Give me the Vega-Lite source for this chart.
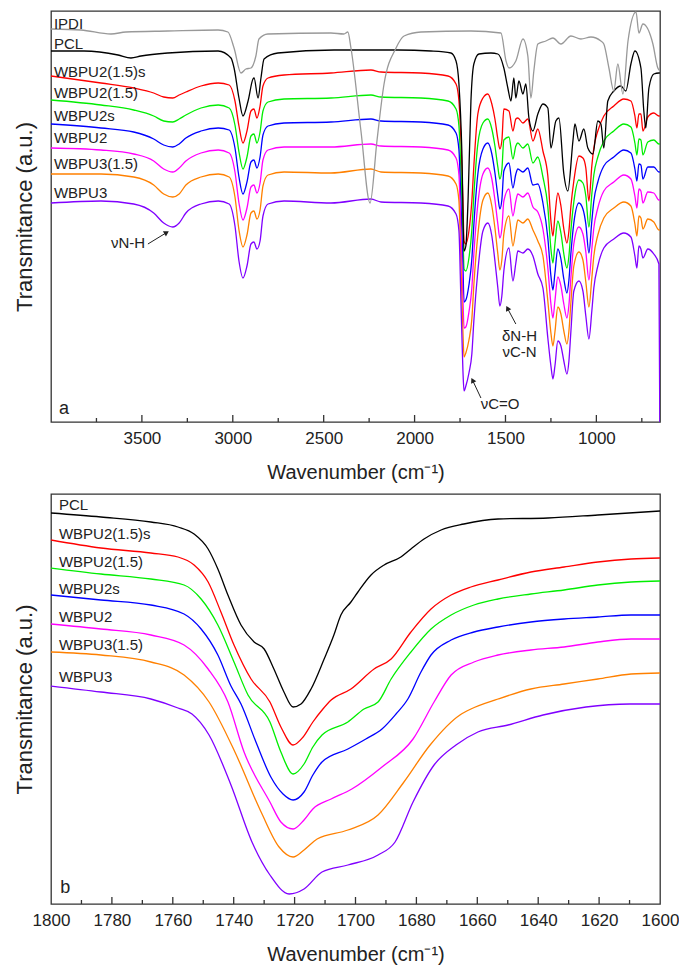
{
  "$schema": "https://vega.github.io/schema/vega-lite/v6.json",
  "background": "white",
  "padding": {"left": 12, "top": 10, "right": 5, "bottom": 5},
  "spacing": 10,
  "config": {
    "font": "Liberation Sans",
    "view": {"stroke": "#333333", "strokeWidth": 1.3},
    "axis": {"grid": false, "domain": false, "ticks": false, "tickSize": 0, "labelFont": "Liberation Sans", "titleFont": "Liberation Sans", "labelColor": "#222222", "titleColor": "#222222", "titleFontWeight": "normal", "labelFontSize": 17, "titleFontSize": 20}
  },
  "datasets": {
    "aw": [
      {"w":4000,"r":346,"g":322,"b":298,"m":274,"o":248,"p":219},
      {"w":3725,"r":339,"g":317,"b":294,"m":272,"o":248,"p":221},
      {"w":3545,"r":334,"g":312,"b":290,"m":268,"o":245,"p":218},
      {"w":3435,"r":329,"g":306,"b":283,"m":261,"o":237,"p":209},
      {"w":3380,"r":325,"g":301,"b":277,"m":253,"o":228,"p":199},
      {"w":3330,"r":324,"g":300,"b":275,"m":250,"o":225,"p":195},
      {"w":3295,"r":327,"g":303,"b":278,"m":254,"o":228,"p":199},
      {"w":3258,"r":330,"g":307,"b":284,"m":261,"o":237,"p":209},
      {"w":3175,"r":336,"g":314,"b":291,"m":269,"o":245,"p":218},
      {"w":3080,"r":339,"g":317,"b":294,"m":272,"o":248,"p":221},
      {"w":3020,"r":337,"g":314,"b":292,"m":269,"o":245,"p":218},
      {"w":2988,"r":321,"g":297,"b":274,"m":250,"o":225,"p":196},
      {"w":2966,"r":296,"g":270,"b":245,"m":219,"o":192,"p":161},
      {"w":2944,"r":279,"g":253,"b":228,"m":202,"o":175,"p":144},
      {"w":2922,"r":291,"g":265,"b":240,"m":214,"o":187,"p":156},
      {"w":2900,"r":311,"g":286,"b":260,"m":235,"o":209,"p":178},
      {"w":2884,"r":313,"g":288,"b":262,"m":237,"o":211,"p":180},
      {"w":2867,"r":304,"g":279,"b":254,"m":229,"o":203,"p":173},
      {"w":2850,"r":316,"g":290,"b":265,"m":239,"o":212,"p":181},
      {"w":2834,"r":336,"g":311,"b":287,"m":262,"o":236,"p":206},
      {"w":2806,"r":344,"g":320,"b":296,"m":272,"o":247,"p":218},
      {"w":2718,"r":347,"g":323,"b":299,"m":275,"o":250,"p":221},
      {"w":2460,"r":349,"g":324,"b":300,"m":275,"o":249,"p":219},
      {"w":2240,"r":352,"g":327,"b":303,"m":278,"o":253,"p":223},
      {"w":2185,"r":350,"g":325,"b":301,"m":276,"o":250,"p":220},
      {"w":1965,"r":349,"g":324,"b":300,"m":275,"o":249,"p":219},
      {"w":1816,"r":346,"g":321,"b":297,"m":272,"o":246,"p":216},
      {"w":1772,"r":338,"g":313,"b":289,"m":264,"o":238,"p":208},
      {"w":1756,"r":321,"g":296,"b":272,"m":247,"o":221,"p":191},
      {"w":1745,"r":281,"g":251,"b":220,"m":190,"o":158,"p":121},
      {"w":1734,"r":221,"g":189,"b":156,"m":124,"o":90,"p":51},
      {"w":1728,"r":181,"g":153,"b":120,"m":94,"o":65,"p":31},
      {"w":1718,"r":178,"g":151,"b":122,"m":95,"o":69,"p":36},
      {"w":1701,"r":191,"g":164,"b":137,"m":110,"o":82,"p":49},
      {"w":1685,"r":221,"g":192,"b":163,"m":134,"o":103,"p":68},
      {"w":1674,"r":256,"g":227,"b":197,"m":168,"o":137,"p":101},
      {"w":1652,"r":308,"g":278,"b":248,"m":218,"o":187,"p":151},
      {"w":1624,"r":324,"g":299,"b":273,"m":248,"o":222,"p":191},
      {"w":1597,"r":328,"g":303,"b":279,"m":254,"o":229,"p":199},
      {"w":1575,"r":318,"g":293,"b":268,"m":243,"o":216,"p":186},
      {"w":1558,"r":303,"g":276,"b":249,"m":222,"o":194,"p":161},
      {"w":1542,"r":283,"g":255,"b":226,"m":198,"o":168,"p":134},
      {"w":1531,"r":273,"g":243,"b":213,"m":184,"o":152,"p":116},
      {"w":1520,"r":281,"g":252,"b":222,"m":193,"o":162,"p":126},
      {"w":1509,"r":313,"g":282,"b":251,"m":221,"o":188,"p":151},
      {"w":1481,"r":311,"g":285,"b":259,"m":233,"o":206,"p":174},
      {"w":1459,"r":291,"g":263,"b":234,"m":206,"o":176,"p":141},
      {"w":1443,"r":303,"g":276,"b":248,"m":221,"o":192,"p":159},
      {"w":1432,"r":304,"g":279,"b":253,"m":228,"o":202,"p":171},
      {"w":1404,"r":299,"g":274,"b":250,"m":225,"o":199,"p":169},
      {"w":1377,"r":303,"g":278,"b":254,"m":229,"o":203,"p":173},
      {"w":1349,"r":281,"g":259,"b":237,"m":215,"o":192,"p":166},
      {"w":1322,"r":293,"g":265,"b":238,"m":210,"o":181,"p":148},
      {"w":1294,"r":271,"g":245,"b":219,"m":193,"o":166,"p":134},
      {"w":1267,"r":246,"g":215,"b":184,"m":154,"o":121,"p":84},
      {"w":1250,"r":201,"g":173,"b":146,"m":118,"o":89,"p":56},
      {"w":1239,"r":186,"g":159,"b":132,"m":104,"o":76,"p":43},
      {"w":1228,"r":206,"g":178,"b":149,"m":121,"o":90,"p":56},
      {"w":1212,"r":229,"g":201,"b":173,"m":145,"o":115,"p":81},
      {"w":1195,"r":216,"g":189,"b":163,"m":136,"o":108,"p":76},
      {"w":1179,"r":193,"g":168,"b":143,"m":118,"o":91,"p":61},
      {"w":1162,"r":179,"g":154,"b":129,"m":104,"o":78,"p":48},
      {"w":1151,"r":191,"g":166,"b":142,"m":117,"o":91,"p":61},
      {"w":1140,"r":216,"g":192,"b":169,"m":145,"o":120,"p":91},
      {"w":1124,"r":241,"g":220,"b":199,"m":178,"o":156,"p":131},
      {"w":1096,"r":266,"g":242,"b":219,"m":195,"o":170,"p":141},
      {"w":1074,"r":264,"g":239,"b":213,"m":188,"o":162,"p":131},
      {"w":1058,"r":254,"g":226,"b":198,"m":170,"o":140,"p":106},
      {"w":1041,"r":221,"g":195,"b":169,"m":142,"o":115,"p":83},
      {"w":1025,"r":256,"g":228,"b":201,"m":173,"o":144,"p":111},
      {"w":1014,"r":274,"g":247,"b":221,"m":194,"o":166,"p":134},
      {"w":992,"r":291,"g":265,"b":240,"m":214,"o":187,"p":156},
      {"w":959,"r":306,"g":281,"b":256,"m":231,"o":204,"p":174},
      {"w":904,"r":316,"g":291,"b":265,"m":240,"o":214,"p":183},
      {"w":849,"r":323,"g":298,"b":272,"m":247,"o":220,"p":189},
      {"w":810,"r":321,"g":295,"b":269,"m":243,"o":216,"p":185},
      {"w":788,"r":306,"g":279,"b":253,"m":226,"o":198,"p":166},
      {"w":777,"r":294,"g":267,"b":241,"m":214,"o":186,"p":154},
      {"w":766,"r":308,"g":283,"b":258,"m":233,"o":206,"p":176},
      {"w":755,"r":308,"g":282,"b":257,"m":231,"o":204,"p":173},
      {"w":744,"r":291,"g":267,"b":243,"m":219,"o":193,"p":164},
      {"w":717,"r":305,"g":280,"b":255,"m":230,"o":203,"p":173},
      {"w":684,"r":309,"g":282,"b":255,"m":229,"o":200,"p":168},
      {"w":656,"r":306,"g":278,"b":250,"m":222,"o":192,"p":158},
      {"w":651,"r":306,"g":278,"b":250,"m":222,"o":192,"p":0}
    ],
    "ak": [
      {"w":4000,"v":371},{"w":3818,"v":371},{"w":3631,"v":367},{"w":3560,"v":364},{"w":3505,"v":366},{"w":3357,"v":369},{"w":3081,"v":371},{"w":3010,"v":364},{"w":2993,"v":354},{"w":2966,"v":324},{"w":2944,"v":306},{"w":2916,"v":321},{"w":2889,"v":343},{"w":2883,"v":344},{"w":2861,"v":324},{"w":2845,"v":344},{"w":2828,"v":363},{"w":2752,"v":369},{"w":2443,"v":372},{"w":2091,"v":372},{"w":1910,"v":371},{"w":1800,"v":369},{"w":1772,"v":361},{"w":1756,"v":338},{"w":1740,"v":271},{"w":1728,"v":171},{"w":1718,"v":176},{"w":1706,"v":221},{"w":1690,"v":321},{"w":1674,"v":358},{"w":1646,"v":368},{"w":1580,"v":369},{"w":1542,"v":368},{"w":1509,"v":354},{"w":1487,"v":334},{"w":1470,"v":321},{"w":1454,"v":344},{"w":1443,"v":324},{"w":1426,"v":341},{"w":1404,"v":328},{"w":1388,"v":338},{"w":1371,"v":304},{"w":1349,"v":291},{"w":1322,"v":308},{"w":1294,"v":318},{"w":1267,"v":314},{"w":1250,"v":274},{"w":1223,"v":301},{"w":1206,"v":304},{"w":1179,"v":248},{"w":1157,"v":231},{"w":1129,"v":281},{"w":1118,"v":298},{"w":1096,"v":281},{"w":1069,"v":293},{"w":1047,"v":274},{"w":1019,"v":268},{"w":992,"v":301},{"w":975,"v":298},{"w":959,"v":274},{"w":937,"v":321},{"w":904,"v":331},{"w":865,"v":336},{"w":838,"v":331},{"w":810,"v":358},{"w":788,"v":371},{"w":755,"v":354},{"w":739,"v":311},{"w":728,"v":294},{"w":711,"v":334},{"w":684,"v":348},{"w":656,"v":349},{"w":651,"v":349}
    ],
    "ai": [
      {"w":4000,"v":393},{"w":3835,"v":392},{"w":3670,"v":388},{"w":3588,"v":390},{"w":3357,"v":391},{"w":3081,"v":392},{"w":3027,"v":390},{"w":2993,"v":374},{"w":2955,"v":349},{"w":2928,"v":353},{"w":2900,"v":354},{"w":2873,"v":366},{"w":2856,"v":383},{"w":2807,"v":388},{"w":2460,"v":389},{"w":2389,"v":388},{"w":2367,"v":390},{"w":2350,"v":374},{"w":2295,"v":291},{"w":2245,"v":219},{"w":2207,"v":281},{"w":2168,"v":338},{"w":2102,"v":374},{"w":2058,"v":386},{"w":1965,"v":390},{"w":1690,"v":391},{"w":1525,"v":389},{"w":1497,"v":361},{"w":1481,"v":354},{"w":1443,"v":361},{"w":1404,"v":383},{"w":1377,"v":366},{"w":1360,"v":324},{"w":1344,"v":351},{"w":1322,"v":378},{"w":1278,"v":381},{"w":1239,"v":384},{"w":1195,"v":378},{"w":1140,"v":386},{"w":1085,"v":383},{"w":1030,"v":385},{"w":975,"v":381},{"w":959,"v":378},{"w":931,"v":354},{"w":904,"v":331},{"w":882,"v":358},{"w":854,"v":328},{"w":826,"v":381},{"w":782,"v":410},{"w":766,"v":389},{"w":744,"v":398},{"w":689,"v":378},{"w":662,"v":354},{"w":650,"v":351}
    ],
    "alab": [
      {"x":3984,"y":398,"t":"IPDI"},
      {"x":3984,"y":378,"t":"PCL"},
      {"x":3984,"y":350,"t":"WBPU2(1.5)s"},
      {"x":3984,"y":329,"t":"WBPU2(1.5)"},
      {"x":3984,"y":306,"t":"WBPU2s"},
      {"x":3984,"y":284,"t":"WBPU2"},
      {"x":3984,"y":258,"t":"WBPU3(1.5)"},
      {"x":3984,"y":229,"t":"WBPU3"}
    ],
    "aann": [
      {"x":3576,"y":179,"t":"νN-H"},
      {"x":1423,"y":86,"t":"δN-H"},
      {"x":1423,"y":70,"t":"νC-N"},
      {"x":1530,"y":18,"t":"νC=O"}
    ],
    "aarr": [
      {"id":"nh","x":3467,"y":178,"x2":3368,"y2":189},
      {"id":"cn","x":1443,"y":98,"x2":1487,"y2":113},
      {"id":"co","x":1635,"y":24,"x2":1679,"y2":41}
    ],
    "atmaj": [{"w":3500},{"w":3000},{"w":2500},{"w":2000},{"w":1500},{"w":1000}],
    "atmin": [{"w":3750},{"w":3250},{"w":2750},{"w":2250},{"w":1750},{"w":1250},{"w":750}],
    "btmaj": [{"w":1780},{"w":1760},{"w":1740},{"w":1720},{"w":1700},{"w":1680},{"w":1660},{"w":1640},{"w":1620}],
    "btmin": [{"w":1790},{"w":1770},{"w":1750},{"w":1730},{"w":1710},{"w":1690},{"w":1670},{"w":1650},{"w":1630},{"w":1610}],
    "b": [
      {"s":"k","w":1800,"v":391},{"s":"k","w":1783.6,"v":387},{"s":"k","w":1767.2,"v":382},{"s":"k","w":1758.3,"v":377},{"s":"k","w":1753,"v":370},{"s":"k","w":1748.4,"v":355},{"s":"k","w":1745.2,"v":335},{"s":"k","w":1741.9,"v":309},{"s":"k","w":1737.6,"v":279},{"s":"k","w":1733.3,"v":262},{"s":"k","w":1730,"v":255},{"s":"k","w":1726.8,"v":235},{"s":"k","w":1723.5,"v":212},{"s":"k","w":1720.5,"v":197},{"s":"k","w":1717.9,"v":200},{"s":"k","w":1714.6,"v":215},{"s":"k","w":1710.3,"v":245},{"s":"k","w":1707.1,"v":269},{"s":"k","w":1704.8,"v":289},{"s":"k","w":1701.5,"v":302},{"s":"k","w":1699.2,"v":312},{"s":"k","w":1694.9,"v":329},{"s":"k","w":1690.6,"v":339},{"s":"k","w":1685.1,"v":347},{"s":"k","w":1681.8,"v":355},{"s":"k","w":1677.5,"v":365},{"s":"k","w":1671.9,"v":374},{"s":"k","w":1664.4,"v":380},{"s":"k","w":1653.2,"v":385},{"s":"k","w":1636.8,"v":386},{"s":"k","w":1620.4,"v":389},{"s":"k","w":1600,"v":393},
      {"s":"r","w":1800,"v":364},{"s":"r","w":1783.6,"v":356},{"s":"r","w":1767.2,"v":351},{"s":"r","w":1758.3,"v":347},{"s":"r","w":1753,"v":339},{"s":"r","w":1748.4,"v":322},{"s":"r","w":1744.2,"v":292},{"s":"r","w":1739.9,"v":259},{"s":"r","w":1734.3,"v":225},{"s":"r","w":1728.1,"v":202},{"s":"r","w":1724.5,"v":177},{"s":"r","w":1720.5,"v":159},{"s":"r","w":1717.2,"v":167},{"s":"r","w":1714,"v":182},{"s":"r","w":1710.7,"v":195},{"s":"r","w":1708,"v":204},{"s":"r","w":1701.5,"v":215},{"s":"r","w":1693.9,"v":235},{"s":"r","w":1688.3,"v":245},{"s":"r","w":1681.8,"v":272},{"s":"r","w":1675.2,"v":295},{"s":"r","w":1668.6,"v":309},{"s":"r","w":1662.1,"v":317},{"s":"r","w":1653.2,"v":324},{"s":"r","w":1642.4,"v":332},{"s":"r","w":1631.5,"v":337},{"s":"r","w":1620.4,"v":342},{"s":"r","w":1609.5,"v":345},{"s":"r","w":1600,"v":346},
      {"s":"g","w":1800,"v":336},{"s":"g","w":1783.6,"v":330},{"s":"g","w":1767.2,"v":325},{"s":"g","w":1756.3,"v":319},{"s":"g","w":1750.7,"v":305},{"s":"g","w":1745.2,"v":279},{"s":"g","w":1739.9,"v":242},{"s":"g","w":1735.3,"v":209},{"s":"g","w":1728.1,"v":182},{"s":"g","w":1724.5,"v":152},{"s":"g","w":1720.5,"v":130},{"s":"g","w":1716.9,"v":140},{"s":"g","w":1714,"v":157},{"s":"g","w":1711,"v":169},{"s":"g","w":1702.5,"v":182},{"s":"g","w":1697.2,"v":195},{"s":"g","w":1692.6,"v":202},{"s":"g","w":1688.3,"v":225},{"s":"g","w":1681.8,"v":252},{"s":"g","w":1675.2,"v":275},{"s":"g","w":1668.6,"v":289},{"s":"g","w":1661.1,"v":299},{"s":"g","w":1653.2,"v":305},{"s":"g","w":1642.4,"v":310},{"s":"g","w":1631.5,"v":314},{"s":"g","w":1620.4,"v":319},{"s":"g","w":1609.5,"v":322},{"s":"g","w":1600,"v":323},
      {"s":"b","w":1800,"v":309},{"s":"b","w":1783.6,"v":304},{"s":"b","w":1767.2,"v":299},{"s":"b","w":1756.3,"v":290},{"s":"b","w":1750.7,"v":275},{"s":"b","w":1745.2,"v":249},{"s":"b","w":1740.9,"v":218},{"s":"b","w":1737.6,"v":200},{"s":"b","w":1732.7,"v":162},{"s":"b","w":1727.8,"v":127},{"s":"b","w":1723.8,"v":110},{"s":"b","w":1720.5,"v":104},{"s":"b","w":1716.9,"v":112},{"s":"b","w":1714,"v":129},{"s":"b","w":1711,"v":142},{"s":"b","w":1702.5,"v":155},{"s":"b","w":1696.6,"v":165},{"s":"b","w":1691.3,"v":175},{"s":"b","w":1686.7,"v":190},{"s":"b","w":1682.8,"v":205},{"s":"b","w":1678.5,"v":232},{"s":"b","w":1675.2,"v":249},{"s":"b","w":1668.6,"v":264},{"s":"b","w":1661.1,"v":272},{"s":"b","w":1653.2,"v":277},{"s":"b","w":1642.4,"v":282},{"s":"b","w":1631.5,"v":285},{"s":"b","w":1620.4,"v":287},{"s":"b","w":1609.5,"v":289},{"s":"b","w":1600,"v":289},
      {"s":"m","w":1800,"v":280},{"s":"m","w":1783.6,"v":275},{"s":"m","w":1767.2,"v":269},{"s":"m","w":1756.3,"v":259},{"s":"m","w":1748.4,"v":235},{"s":"m","w":1741.9,"v":202},{"s":"m","w":1736.6,"v":152},{"s":"m","w":1728.1,"v":102},{"s":"m","w":1724.5,"v":82},{"s":"m","w":1720.5,"v":75},{"s":"m","w":1716.9,"v":84},{"s":"m","w":1714,"v":95},{"s":"m","w":1708,"v":105},{"s":"m","w":1701.2,"v":115},{"s":"m","w":1691.3,"v":137},{"s":"m","w":1681.1,"v":165},{"s":"m","w":1674.2,"v":202},{"s":"m","w":1668.6,"v":229},{"s":"m","w":1661.1,"v":242},{"s":"m","w":1653.2,"v":249},{"s":"m","w":1642.4,"v":254},{"s":"m","w":1631.5,"v":257},{"s":"m","w":1620.4,"v":262},{"s":"m","w":1609.5,"v":265},{"s":"m","w":1600,"v":265},
      {"s":"o","w":1800,"v":252},{"s":"o","w":1783.6,"v":249},{"s":"o","w":1767.2,"v":242},{"s":"o","w":1756.3,"v":229},{"s":"o","w":1748.1,"v":202},{"s":"o","w":1739.6,"v":152},{"s":"o","w":1731,"v":92},{"s":"o","w":1725.1,"v":57},{"s":"o","w":1720.5,"v":47},{"s":"o","w":1716.9,"v":54},{"s":"o","w":1712.6,"v":65},{"s":"o","w":1702.5,"v":74},{"s":"o","w":1692.6,"v":89},{"s":"o","w":1684.1,"v":122},{"s":"o","w":1675.5,"v":159},{"s":"o","w":1665.7,"v":189},{"s":"o","w":1662.1,"v":195},{"s":"o","w":1653.2,"v":205},{"s":"o","w":1642.4,"v":215},{"s":"o","w":1631.5,"v":220},{"s":"o","w":1620.4,"v":225},{"s":"o","w":1609.5,"v":230},{"s":"o","w":1600,"v":231},
      {"s":"p","w":1800,"v":218},{"s":"p","w":1783.6,"v":212},{"s":"p","w":1767.2,"v":205},{"s":"p","w":1758.3,"v":196},{"s":"p","w":1753.7,"v":190},{"s":"p","w":1748.1,"v":169},{"s":"p","w":1740.9,"v":119},{"s":"p","w":1734,"v":62},{"s":"p","w":1728.1,"v":29},{"s":"p","w":1721.8,"v":10},{"s":"p","w":1716.9,"v":15},{"s":"p","w":1711,"v":32},{"s":"p","w":1702.5,"v":39},{"s":"p","w":1692.6,"v":49},{"s":"p","w":1687,"v":62},{"s":"p","w":1681.1,"v":102},{"s":"p","w":1674.2,"v":139},{"s":"p","w":1667,"v":159},{"s":"p","w":1659.8,"v":172},{"s":"p","w":1649.9,"v":179},{"s":"p","w":1638.4,"v":189},{"s":"p","w":1624.3,"v":197},{"s":"p","w":1609.9,"v":200},{"s":"p","w":1600,"v":200}
    ],
    "blab": [
      {"x":1797.4,"y":399,"t":"PCL"},
      {"x":1797.4,"y":370,"t":"WBPU2(1.5)s"},
      {"x":1797.4,"y":342,"t":"WBPU2(1.5)"},
      {"x":1797.4,"y":315,"t":"WBPU2s"},
      {"x":1797.4,"y":287,"t":"WBPU2"},
      {"x":1797.4,"y":259,"t":"WBPU3(1.5)"},
      {"x":1797.4,"y":227,"t":"WBPU3"}
    ]
  },
  "vconcat": [
    {
      "width": 609,
      "height": 411,
      "layer": [
        {
          "data": {"name": "aw"},
          "transform": [{"fold": ["r", "g", "b", "m", "o", "p"], "as": ["s", "v"]}],
          "mark": {"type": "line", "strokeWidth": 1.3, "clip": true, "interpolate": "monotone"},
          "encoding": {
            "x": {"field": "w", "type": "quantitative", "scale": {"domain": [650, 4000], "reverse": true, "nice": false, "zero": false},
              "axis": {"title": "Wavenumber (cm⁻¹)", "values": [3500, 3000, 2500, 2000, 1500, 1000], "format": "d", "labelPadding": 8, "titlePadding": 16}},
            "y": {"field": "v", "type": "quantitative", "scale": {"domain": [0, 411], "nice": false, "zero": false},
              "axis": {"title": "Transmitance (a.u.)", "labels": false, "titleFontSize": 22, "titlePadding": 15}},
            "color": {"field": "s", "type": "nominal", "legend": null, "scale": {"domain": ["r", "g", "b", "m", "o", "p"], "range": ["#ff0000", "#00ee00", "#0000ff", "#ff00ff", "#ff8000", "#8000ff"]}}
          }
        },
        {
          "data": {"name": "ak"},
          "mark": {"type": "line", "strokeWidth": 1.3, "color": "#000000", "clip": true, "interpolate": "monotone"},
          "encoding": {"x": {"field": "w", "type": "quantitative"}, "y": {"field": "v", "type": "quantitative"}}
        },
        {
          "data": {"name": "ai"},
          "mark": {"type": "line", "strokeWidth": 1.3, "color": "#999999", "clip": true, "interpolate": "monotone"},
          "encoding": {"x": {"field": "w", "type": "quantitative"}, "y": {"field": "v", "type": "quantitative"}}
        },
        {
          "data": {"name": "atmaj"},
          "mark": {"type": "rule", "color": "#333333", "strokeWidth": 1.3},
          "encoding": {"x": {"field": "w", "type": "quantitative"}, "y": {"datum": 0}, "y2": {"datum": 7}}
        },
        {
          "data": {"name": "atmin"},
          "mark": {"type": "rule", "color": "#333333", "strokeWidth": 1.3},
          "encoding": {"x": {"field": "w", "type": "quantitative"}, "y": {"datum": 0}, "y2": {"datum": 4}}
        },
        {
          "data": {"name": "alab"},
          "mark": {"type": "text", "align": "left", "baseline": "middle", "fontSize": 15, "color": "#222222"},
          "encoding": {"x": {"field": "x", "type": "quantitative"}, "y": {"field": "y", "type": "quantitative"}, "text": {"field": "t"}}
        },
        {
          "data": {"name": "aann"},
          "mark": {"type": "text", "align": "center", "baseline": "middle", "fontSize": 15, "color": "#222222"},
          "encoding": {"x": {"field": "x", "type": "quantitative"}, "y": {"field": "y", "type": "quantitative"}, "text": {"field": "t"}}
        },
        {
          "data": {"values": [{"t": "a", "x": 3956, "y": 13}]},
          "mark": {"type": "text", "align": "left", "baseline": "middle", "fontSize": 18, "color": "#222222"},
          "encoding": {"x": {"field": "x", "type": "quantitative"}, "y": {"field": "y", "type": "quantitative"}, "text": {"field": "t"}}
        },
        {
          "data": {"name": "aarr"},
          "mark": {"type": "rule", "color": "#222222", "strokeWidth": 1},
          "encoding": {"x": {"field": "x", "type": "quantitative"}, "y": {"field": "y", "type": "quantitative"}, "x2": {"field": "x2"}, "y2": {"field": "y2"}}
        },
        {
          "data": {"name": "aarr"},
          "transform": [{"filter": "datum.id == 'nh'"}],
          "mark": {"type": "point", "shape": "triangle", "filled": true, "color": "#222222", "size": 35, "angle": 59, "opacity": 1},
          "encoding": {"x": {"field": "x2", "type": "quantitative"}, "y": {"field": "y2", "type": "quantitative"}}
        },
        {
          "data": {"name": "aarr"},
          "transform": [{"filter": "datum.id != 'nh'"}],
          "mark": {"type": "point", "shape": "triangle", "filled": true, "color": "#222222", "size": 35, "angle": 333, "opacity": 1},
          "encoding": {"x": {"field": "x2", "type": "quantitative"}, "y": {"field": "y2", "type": "quantitative"}}
        }
      ]
    },
    {
      "width": 609,
      "height": 410,
      "layer": [
        {
          "data": {"name": "b"},
          "mark": {"type": "line", "strokeWidth": 1.3, "clip": true, "interpolate": "monotone"},
          "encoding": {
            "x": {"field": "w", "type": "quantitative", "scale": {"domain": [1600, 1800], "reverse": true, "nice": false, "zero": false},
              "axis": {"title": "Wavenumber (cm⁻¹)", "values": [1800, 1780, 1760, 1740, 1720, 1700, 1680, 1660, 1640, 1620, 1600], "format": "d", "labelPadding": 8, "titlePadding": 16, "labelFlush": false}},
            "y": {"field": "v", "type": "quantitative", "scale": {"domain": [0, 410], "nice": false, "zero": false},
              "axis": {"title": "Transmitance (a.u.)", "labels": false, "titleFontSize": 22, "titlePadding": 15}},
            "color": {"field": "s", "type": "nominal", "legend": null, "scale": {"domain": ["k", "r", "g", "b", "m", "o", "p"], "range": ["#000000", "#ff0000", "#00ee00", "#0000ff", "#ff00ff", "#ff8000", "#8000ff"]}}
          }
        },
        {
          "data": {"name": "btmaj"},
          "mark": {"type": "rule", "color": "#333333", "strokeWidth": 1.3},
          "encoding": {"x": {"field": "w", "type": "quantitative"}, "y": {"datum": 0}, "y2": {"datum": 7}}
        },
        {
          "data": {"name": "btmin"},
          "mark": {"type": "rule", "color": "#333333", "strokeWidth": 1.3},
          "encoding": {"x": {"field": "w", "type": "quantitative"}, "y": {"datum": 0}, "y2": {"datum": 4}}
        },
        {
          "data": {"name": "blab"},
          "mark": {"type": "text", "align": "left", "baseline": "middle", "fontSize": 15, "color": "#222222"},
          "encoding": {"x": {"field": "x", "type": "quantitative"}, "y": {"field": "y", "type": "quantitative"}, "text": {"field": "t"}}
        },
        {
          "data": {"values": [{"t": "b", "x": 1797, "y": 16}]},
          "mark": {"type": "text", "align": "left", "baseline": "middle", "fontSize": 18, "color": "#222222"},
          "encoding": {"x": {"field": "x", "type": "quantitative"}, "y": {"field": "y", "type": "quantitative"}, "text": {"field": "t"}}
        }
      ]
    }
  ],
  "resolve": {"scale": {"color": "independent", "x": "independent", "y": "independent"}}
}
